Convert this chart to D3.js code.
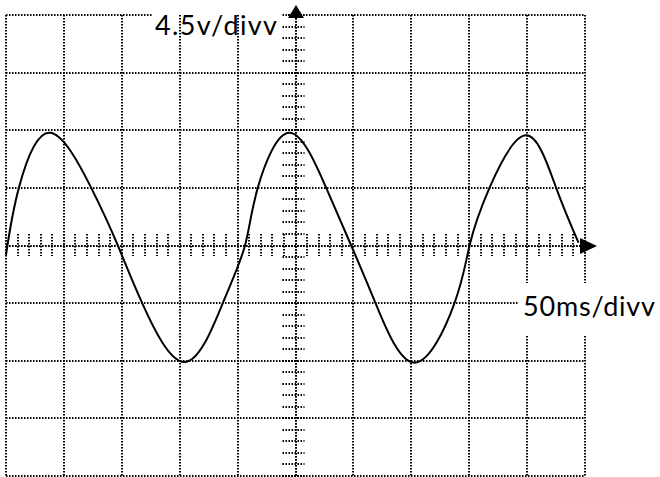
<!DOCTYPE html>
<html>
<head>
<meta charset="utf-8">
<script src="https://cdn.jsdelivr.net/npm/d3@7"></script>
<style>
  html, body { margin: 0; padding: 0; background: #fff; }
  svg { display: block; }
</style>
</head>
<body>
<svg id="chart" width="660" height="477"></svg>
<script>
// ---- Data ----
// Time axis: 50 ms per division, 10 divisions; Voltage axis: 4.5 V per division, 8 divisions
const gridTimes = [-250, -200, -150, -100, -50, 0, 50, 100, 150, 200, 250];
const gridVolts = [-18, -13.5, -9, -4.5, 0, 4.5, 9, 13.5, 18];
const minorTimeStep = 10;   // 5 minor ticks per division
const minorVoltStep = 0.9;  // 5 minor ticks per division

// Waveform samples (time in ms, voltage in V): peaks, troughs, zero and half-amplitude crossings
const timeMs = [-250, -238.9, -212.4, -176.4, -153.4, -132.4, -95.9, -62.8, -43.6, -32.6,
                -5.2, 26.5, 48.1, 69.1, 102.8, 137.3, 150.3, 167.5, 199.2, 225.1, 244.4];
const volts  = [-0.74, 4.5, 8.8, 4.5, 0, -4.5, -9.1, -4.5, 0, 4.5,
                8.8, 4.5, 0, -4.5, -9.15, -4.5, 0, 4.5, 8.6, 4.5, 0.22];

const yLabel = "4.5v/divv";
const xLabel = "50ms/divv";

// ---- Drawing ----
const svg = d3.select("#chart");
const x = d3.scaleLinear().domain([-250, 250]).range([6, 585]);
const y = d3.scaleLinear().domain([-18, 18]).range([476, 15]);

const dotted = sel => sel.attr("stroke", "#000").attr("stroke-width", 2)
  .attr("stroke-dasharray", "1.5,1.5").attr("fill", "none");

svg.append("rect").attr("width", 660).attr("height", 477).attr("fill", "#fff");

// horizontal grid lines
svg.append("g").selectAll("line").data(gridVolts).join("line")
  .attr("x1", x(-250)).attr("x2", x(250))
  .attr("y1", d => Math.round(y(d))).attr("y2", d => Math.round(y(d)))
  .call(dotted);

// top label box (hides top grid line behind the text)
svg.append("rect").attr("x", 153).attr("y", 9).attr("width", 135).attr("height", 11).attr("fill", "#fff");

// vertical grid lines
svg.append("g").selectAll("line").data(gridTimes).join("line")
  .attr("x1", d => Math.round(x(d))).attr("x2", d => Math.round(x(d)))
  .attr("y1", y(18)).attr("y2", y(-18))
  .call(dotted);

// minor ticks along the time axis
const minorT = d3.range(-250, 250.01, minorTimeStep);
svg.append("g").selectAll("line").data(minorT).join("line")
  .attr("x1", d => Math.round(x(d))).attr("x2", d => Math.round(x(d)))
  .attr("y1", Math.round(y(0)) - 12).attr("y2", Math.round(y(0)) + 10)
  .call(dotted);

// minor ticks along the voltage axis
const minorV = d3.range(-18, 18.001, minorVoltStep);
svg.append("g").selectAll("line").data(minorV).join("line")
  .attr("x1", x(0) - 13).attr("x2", x(0) + 9)
  .attr("y1", d => Math.round(y(d))).attr("y2", d => Math.round(y(d)))
  .call(dotted);

// axes
const x0 = Math.round(x(0)), y0 = Math.round(y(0));
svg.append("line").attr("x1", x(-250)).attr("x2", x(250) - 5)
  .attr("y1", y0).attr("y2", y0).call(dotted);
svg.append("line").attr("x1", x0).attr("x2", x0)
  .attr("y1", y(18) + 3).attr("y2", y(-18)).call(dotted);

// bottom label box
svg.append("rect").attr("x", 519).attr("y", 283).attr("width", 141).attr("height", 52).attr("fill", "#fff");

// arrows
svg.append("path")
  .attr("d", `M${x0},${y(18) - 10} L${x0 - 8},${y(18) + 3} L${x0 + 8},${y(18) + 3} Z`)
  .attr("fill", "#000");
svg.append("path")
  .attr("d", `M${x(250) + 12},${y0} L${x(250) - 5},${y0 - 8} L${x(250) - 5},${y0 + 8} Z`)
  .attr("fill", "#000");

// waveform
const pts = timeMs.map((t, i) => ({ t, v: volts[i] }));
svg.append("path").datum(pts)
  .attr("d", d3.line().x(d => x(d.t)).y(d => y(d.v)).curve(d3.curveNatural))
  .attr("fill", "none").attr("stroke", "#000").attr("stroke-width", 2);

// labels
svg.append("text").attr("x", 155).attr("y", 35).text(yLabel)
  .attr("textLength", 122).attr("lengthAdjust", "spacing")
  .attr("font-family", "Lato, 'Open Sans', sans-serif").attr("font-size", 27).attr("fill", "#000");
svg.append("text").attr("x", 523).attr("y", 316).text(xLabel)
  .attr("textLength", 132).attr("lengthAdjust", "spacing")
  .attr("font-family", "Lato, 'Open Sans', sans-serif").attr("font-size", 27).attr("fill", "#000");
</script>
</body>
</html>
